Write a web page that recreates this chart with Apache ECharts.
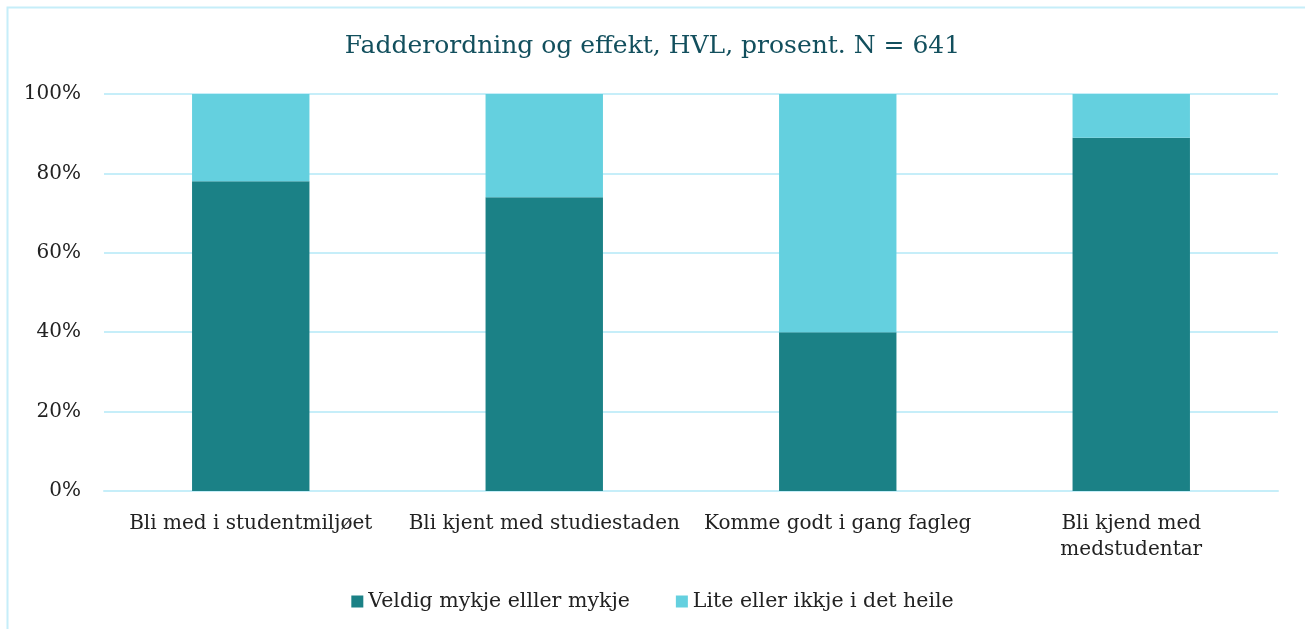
<!DOCTYPE html>
<html>
<head>
<meta charset="utf-8">
<script src="https://cdn.jsdelivr.net/npm/echarts@6/dist/echarts.min.js"></script>
<style>
  html, body { margin: 0; padding: 0; background: #fff; }
  #main { width: 1305px; height: 629px; }
</style>
</head>
<body>
<div id="main"></div>
<script>
var categories = ['Bli med i studentmiljøet', 'Bli kjent med studiestaden', 'Komme godt i gang fagleg', 'Bli kjend med\nmedstudentar'];
var seriesNames = ['Veldig mykje elller mykje', 'Lite eller ikkje i det heile'];
var muchValues = [78, 74, 40, 89];
var littleValues = [22, 26, 60, 11];
var yTicks = [0, 20, 40, 60, 80, 100];

var serif = '"DejaVu Serif", serif';

var chart = echarts.init(document.getElementById('main'));
chart.setOption({
  animation: false,
  color: ['#1b8186', '#64d0df'],
  title: {
    text: 'Fadderordning og effekt, HVL, prosent. N = 641',
    left: 'center',
    top: 29,
    textStyle: { fontFamily: serif, fontWeight: 'normal', fontSize: 25, color: '#124f5d' }
  },
  graphic: [{
    type: 'rect',
    shape: { x: 7.5, y: 7.5, width: 1310, height: 640 },
    style: { fill: 'none', stroke: '#c6eef9', lineWidth: 2 },
    silent: true
  }],
  grid: { left: 104, right: 27, top: 94, bottom: 138 },
  legend: {
    bottom: 12,
    left: 'center',
    itemWidth: 12,
    itemHeight: 12,
    itemGap: 46,
    itemTextGap: 4,
    icon: 'rect',
    textStyle: { fontFamily: serif, fontSize: 20.5, color: '#222' },
    data: seriesNames
  },
  xAxis: {
    type: 'category',
    data: categories,
    axisLine: { lineStyle: { color: '#c6eef9', width: 2 } },
    axisTick: { show: false },
    axisLabel: { fontFamily: serif, fontSize: 20, color: '#222', margin: 20, lineHeight: 26, interval: 0 }
  },
  yAxis: {
    type: 'value',
    min: 0,
    max: 100,
    interval: 20,
    axisLine: { show: false },
    axisTick: { show: false },
    splitLine: { lineStyle: { color: '#c6eef9', width: 2 } },
    axisLabel: {
      fontFamily: serif, fontSize: 20, color: '#222', margin: 23,
      formatter: function (v) { return yTicks.indexOf(v) >= 0 ? v + '%' : ''; }
    }
  },
  series: [
    {
      name: seriesNames[0],
      type: 'bar',
      stack: 'total',
      barWidth: '40%',
      data: muchValues
    },
    {
      name: seriesNames[1],
      type: 'bar',
      stack: 'total',
      barWidth: '40%',
      data: littleValues
    }
  ]
});
</script>
</body>
</html>
